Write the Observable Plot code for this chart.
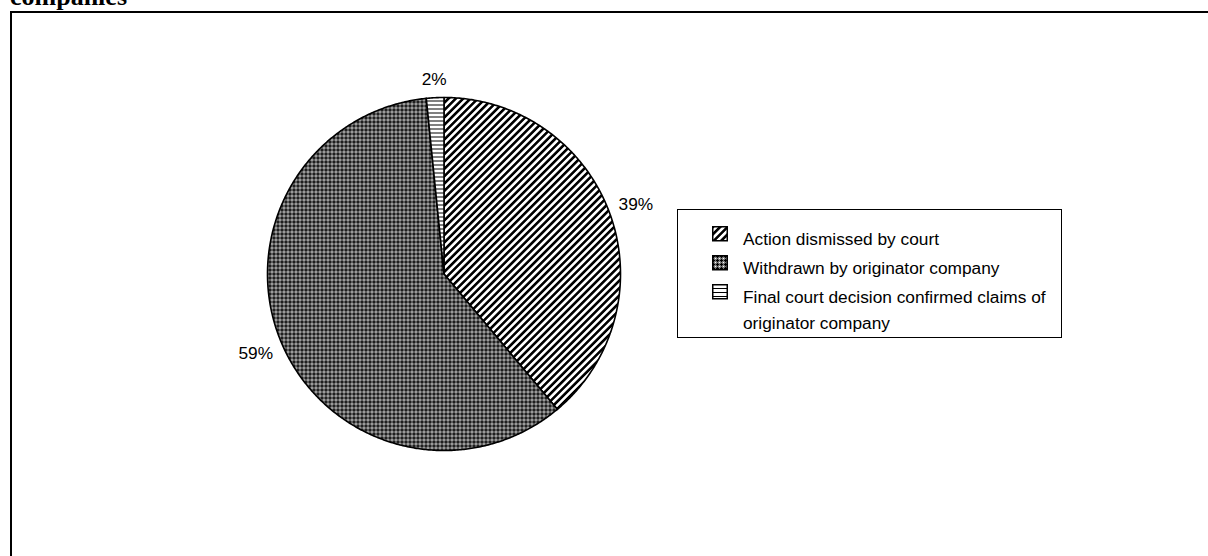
<!DOCTYPE html>
<html>
<head>
<meta charset="utf-8">
<script src="https://cdn.jsdelivr.net/npm/d3@7"></script>
<script src="https://cdn.jsdelivr.net/npm/@observablehq/plot@0.6"></script>
<style>
  html, body { margin: 0; padding: 0; background: #fff; }
  body { position: relative; width: 1208px; height: 556px; overflow: hidden; font-family: "Liberation Sans", Arial, sans-serif; }
  #title { position: absolute; left: 10px; top: -16px; font: bold 26px/26px "Liberation Serif", "Times New Roman", serif; color: #000; white-space: nowrap; }
  #frame { position: absolute; left: 10px; top: 11px; width: 1300px; height: 700px; border-left: 2px solid #000; border-top: 2px solid #000; }
  #chart { position: absolute; left: 0; top: 0; }
  #legend { position: absolute; left: 677px; top: 209px; width: 385px; height: 129px; border: 1px solid #000; background: #fff; box-sizing: border-box; font-size: 17.3px; color: #000; }
  .item { position: absolute; left: 34px; white-space: nowrap; }
  .item svg { position: absolute; left: 0; top: 0; }
  .item span { display: block; margin-left: 31px; line-height: 26px; }
</style>
</head>
<body>
<svg width="0" height="0" style="position:absolute">
  <defs>
    <pattern id="diag" patternUnits="userSpaceOnUse" width="5.2" height="5.2" patternTransform="rotate(-45)">
      <rect width="5.2" height="5.2" fill="#fff"/>
      <rect y="0" width="5.2" height="2.6" fill="#000"/>
    </pattern>
    <pattern id="dots" patternUnits="userSpaceOnUse" width="4" height="4">
      <rect width="4" height="4" fill="#7a7a7a"/>
      <rect x="1" y="0" width="1" height="3" fill="#000"/>
      <rect x="0" y="1" width="3" height="1" fill="#000"/>
      <rect x="3" y="3" width="1" height="1" fill="#fff"/>
    </pattern>
    <pattern id="hlines" patternUnits="userSpaceOnUse" width="4" height="4">
      <rect width="4" height="4" fill="#fff"/>
      <rect y="0" width="4" height="1" fill="#000"/>
    </pattern>
  </defs>
</svg>
<div id="title">companies</div>
<div id="frame"></div>
<div id="chart"></div>
<div id="legend"></div>
<script>
// ---- data ----
const categories = [
  "Action dismissed by court",
  "Withdrawn by originator company",
  "Final court decision confirmed claims of originator company"
];
const shares = [38.9, 59.5, 1.6];
const labels = ["39%", "59%", "2%"];
const legendLines = [
  ["Action dismissed by court"],
  ["Withdrawn by originator company"],
  ["Final court decision confirmed claims of", "originator company"]
];
const patternFills = ["url(#diag)", "url(#dots)", "url(#hlines)"];

// ---- geometry (unit circle, angle clockwise from 12 o'clock) ----
const total = d3.sum(shares);
let acc = 0;
const slices = categories.map((c, i) => {
  const a0 = acc / total * 2 * Math.PI;
  acc += shares[i];
  const a1 = acc / total * 2 * Math.PI;
  return {category: c, a0, a1, label: labels[i]};
});
const polyRows = [];
for (const s of slices) {
  polyRows.push({category: s.category, x: 0, y: 0});
  const n = Math.max(2, Math.ceil((s.a1 - s.a0) / (Math.PI / 360)));
  for (let k = 0; k <= n; k++) {
    const a = s.a0 + (s.a1 - s.a0) * k / n;
    polyRows.push({category: s.category, x: Math.sin(a), y: Math.cos(a)});
  }
}
const R = 176.5, FS = 17.3;
const labelRows = slices.map(s => {
  const m = (s.a0 + s.a1) / 2;
  const hw = FS * (0.278 * (s.label.length - 1) + 0.444);
  const hh = 10;
  const f = 1 + (8 + hw * Math.abs(Math.sin(m)) + hh * Math.abs(Math.cos(m))) / R;
  return {x: Math.sin(m) * f, y: Math.cos(m) * f, text: s.label};
});

const chart = Plot.plot({
  width: 1208,
  height: 556,
  style: {background: "transparent", fontFamily: "'Liberation Sans', Arial, sans-serif"},
  x: {domain: [-1, 1], range: [267, 620], axis: null},
  y: {domain: [-1, 1], range: [450, 97], axis: null},
  color: {domain: categories, range: patternFills},
  marks: [
    Plot.line(polyRows, {x: "x", y: "y", z: "category", fill: "category", stroke: "#000", strokeWidth: 1.6, curve: "linear-closed", strokeLinejoin: "round"}),
    Plot.text(labelRows, {x: "x", y: "y", text: "text", fontSize: FS, fill: "#000"})
  ]
});
document.getElementById("chart").appendChild(chart);

// ---- legend ----
const legend = document.getElementById("legend");
const rowTops = [16, 45, 74];
categories.forEach((c, i) => {
  const item = document.createElement("div");
  item.className = "item";
  item.style.top = rowTops[i] + "px";
  item.innerHTML = `<svg width="17" height="16"><rect x="0.75" y="0.75" width="14.5" height="14" fill="${patternFills[i]}" stroke="#000" stroke-width="1.5"/></svg>` +
    `<span>${legendLines[i].join("<br>")}</span>`;
  legend.appendChild(item);
});
</script>
</body>
</html>
